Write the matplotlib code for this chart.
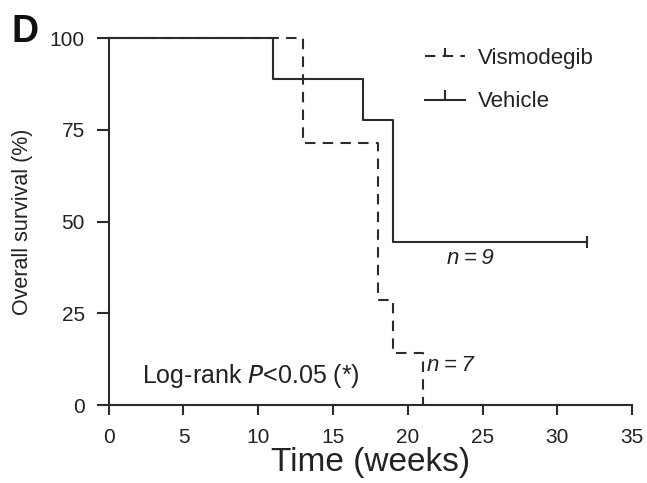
import matplotlib.pyplot as plt
from matplotlib.lines import Line2D

plt.rcParams['font.family'] = ['Liberation Sans', 'DejaVu Sans']

# Kaplan-Meier step data (weeks, % survival)
vehicle_t = [0, 11, 17, 19, 32]
vehicle_s = [100, 88.9, 77.8, 44.4, 44.4]
vismo_t = [0, 13, 18, 19, 21, 21]
vismo_s = [100, 71.4, 28.6, 14.3, 0, 0]
censor_t = [32]
censor_s = [44.4]

xticks = [0, 5, 10, 15, 20, 25, 30, 35]
yticks = [0, 25, 50, 75, 100]

fig = plt.figure(figsize=(6.47, 4.83), dpi=100)
ax = fig.add_axes([0.168, 0.161, 0.809, 0.76])

col = '#2b2b2b'
txt = '#222222'
lw = 1.5
ax.plot(vehicle_t, vehicle_s, drawstyle='steps-post', color=col, lw=lw, clip_on=False)
ax.plot(vismo_t, vismo_s, drawstyle='steps-post', color=col, lw=lw,
        dashes=(5, 3.5), clip_on=False)
ax.plot(censor_t, censor_s, ls='none', marker='|', ms=8, mew=lw, color=col, clip_on=False)

ax.set_xlim(0, 35)
ax.set_ylim(0, 100)
ax.set_xticks(xticks)
ax.set_yticks(yticks)
for s in ['top', 'right']:
    ax.spines[s].set_visible(False)
for s in ['left', 'bottom']:
    ax.spines[s].set_color(col)
    ax.spines[s].set_linewidth(lw)
ax.tick_params(direction='out', width=lw, color=col, labelsize=15, labelcolor=txt)
ax.tick_params(axis='x', length=7.2, pad=9.5)
ax.tick_params(axis='y', length=8.6, pad=8.5)
ax.set_xlabel('Time (weeks)', fontsize=24, color=txt, labelpad=0)
ax.set_ylabel('Overall survival (%)', fontsize=15.5, color=txt, labelpad=12)

ax.text(22.6, 40, 'n\u2009=\u20099', fontsize=16, color=txt, va='center', style='italic')
ax.text(21.3, 10.8, 'n\u2009=\u20097', fontsize=16, color=txt, va='center', style='italic')
ax.text(2.2, 8, 'Log-rank $\\mathit{P}$<0.05 (*)', fontsize=18, color=txt, va='center')

handles = [
    Line2D([], [], color=col, lw=lw, dashes=(5, 3.5), marker=2, ms=6, mew=lw),
    Line2D([], [], color=col, lw=lw, marker=2, ms=7, mew=lw),
]
ax.legend(handles, ['Vismodegib', 'Vehicle'], loc='upper left', bbox_to_anchor=(0.604, 0.973),
          frameon=False, fontsize=16, handlelength=1.8, labelspacing=1.0, numpoints=1,
          handletextpad=0.6, borderpad=0, borderaxespad=0, labelcolor=txt)

fig.text(0.018, 0.913, 'D', fontsize=27, fontweight='bold', color='#111111')

fig.savefig('out.png', dpi=100)
